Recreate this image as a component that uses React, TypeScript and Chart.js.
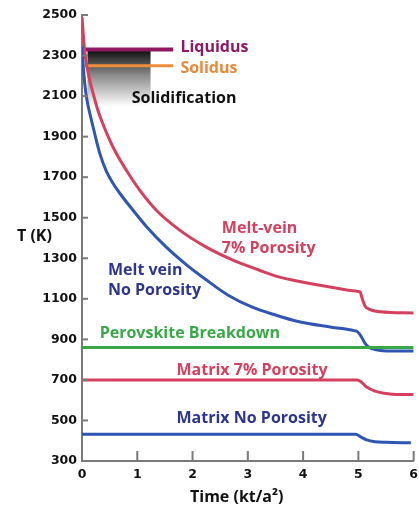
import React, { useEffect, useRef } from "react";
import { Chart, registerables } from "chart.js";
Chart.register(...registerables);

// Time (kt/a^2) and temperature (K) samples
const meltPorousT = [0, 0.03, 0.07, 0.13, 0.2, 0.27, 0.35, 0.56, 0.8, 1.04, 1.34, 1.76, 2.24, 2.72, 3.2, 3.56, 4.0, 4.51, 4.95, 5.03, 5.07, 5.12, 5.2, 5.4, 6.0];
const meltPorousV = [2490, 2380, 2278, 2190, 2115, 2045, 1982, 1849, 1735, 1637, 1538, 1440, 1356, 1292, 1242, 1208, 1182, 1157, 1138, 1134, 1100, 1065, 1048, 1036, 1030];

const meltSolidT = [0, 0.03, 0.07, 0.12, 0.17, 0.32, 0.44, 0.56, 0.68, 0.92, 1.16, 1.52, 1.88, 2.24, 2.66, 3.07, 3.5, 3.91, 4.51, 4.92, 4.98, 5.05, 5.12, 5.2, 5.3, 5.5, 6.0];
const meltSolidV = [2345, 2220, 2115, 2040, 1982, 1819, 1730, 1670, 1622, 1538, 1458, 1356, 1270, 1195, 1115, 1060, 1020, 988, 960, 943, 938, 915, 880, 860, 850, 843, 842];

const perovskiteT = [0, 6];
const perovskiteV = [860, 860];

const matrixPorousT = [0, 4.98, 5.05, 5.15, 5.3, 5.5, 5.7, 6.0];
const matrixPorousV = [700, 700, 690, 665, 645, 633, 628, 628];

const matrixSolidT = [0, 4.95, 5.05, 5.15, 5.3, 5.5, 5.95];
const matrixSolidV = [432, 432, 418, 404, 395, 392, 390];

const liquidusT = [0.05, 1.65];
const liquidusV = [2330, 2330];
const solidusT = [0.05, 1.65];
const solidusV = [2250, 2250];

// Solidification band: time range and temperature range
const bandT = [0.1, 1.24];
const bandV = [2330, 2050];

const xTicks = [0, 1, 2, 3, 4, 5, 6];
const yTicks = [300, 500, 700, 900, 1100, 1300, 1500, 1700, 1900, 2100, 2300, 2500];

// In-plot labels: text, colour, anchor (time, temperature at baseline)
const labelTexts = ["Liquidus", "Solidus", "Solidification", "Melt-vein", "7% Porosity", "Melt vein", "No Porosity", "Perovskite Breakdown", "Matrix 7% Porosity", "Matrix No Porosity"];
const labelColors = ["#8e1a63", "#e88a3a", "#111111", "#d4405f", "#d4405f", "#2e3590", "#2e3590", "#3aa848", "#d4405f", "#2e3590"];
const labelT = [1.78, 1.78, 0.9, 2.53, 2.53, 0.47, 0.47, 0.32, 1.71, 1.71];
const labelV = [2318, 2214, 2066, 1425, 1326, 1218, 1119, 907, 724, 487];

const RED = "#d6405f";
const BLUE = "#2f56b4";
const GREEN = "#3aa848";
const PURPLE = "#8e1a63";
const ORANGE = "#ee8e3c";

const LABEL_FONT = 'bold 16px "Open Sans"';

const pairs = (ts: number[], vs: number[]) => ts.map((t, i) => ({ x: t, y: vs[i] }));

export default function App() {
  const ref = useRef<HTMLCanvasElement>(null);
  useEffect(() => {
    document.body.style.margin = "0";
    const decor = {
      id: "decor",
      beforeDatasetsDraw(chart: any) {
        const { ctx, scales } = chart;
        const x = scales.x, y = scales.y;
        const x0 = x.getPixelForValue(bandT[0]);
        const x1 = x.getPixelForValue(bandT[1]);
        const y0 = y.getPixelForValue(bandV[0]);
        const y1 = y.getPixelForValue(bandV[1]);
        const g = ctx.createLinearGradient(0, y0, 0, y1);
        g.addColorStop(0, "#0a0a0a");
        g.addColorStop(0.45, "#8a8a8a");
        g.addColorStop(1, "rgba(255,255,255,1)");
        ctx.save();
        ctx.fillStyle = g;
        ctx.fillRect(x0, y0, x1 - x0, y1 - y0);
        ctx.restore();
      },
      afterDraw(chart: any) {
        const { ctx, scales, chartArea } = chart;
        const x = scales.x, y = scales.y;
        ctx.save();
        ctx.strokeStyle = "#7a7a7a";
        ctx.lineWidth = 2;
        for (const v of yTicks) {
          const py = y.getPixelForValue(v);
          ctx.beginPath();
          ctx.moveTo(chartArea.left, py);
          ctx.lineTo(chartArea.left + 6, py);
          ctx.stroke();
        }
        for (const t of xTicks) {
          if (t === 0) continue;
          const px = x.getPixelForValue(t);
          ctx.beginPath();
          ctx.moveTo(px, chartArea.bottom);
          ctx.lineTo(px, chartArea.bottom - 10);
          ctx.stroke();
        }
        ctx.textBaseline = "alphabetic";
        ctx.textAlign = "left";
        ctx.font = LABEL_FONT;
        labelTexts.forEach((txt, i) => {
          ctx.fillStyle = labelColors[i];
          ctx.fillText(txt, x.getPixelForValue(labelT[i]), y.getPixelForValue(labelV[i]));
        });
        ctx.fillStyle = "#111";
        ctx.font = 'bold 16px "Open Sans"';
        ctx.fillText("T (K)", 17, 241);
        ctx.fillText("Time (kt/a²)", 190, 502);
        ctx.restore();
      },
    };
    const line = (data: any, color: string, width = 3) => ({
      data,
      borderColor: color,
      backgroundColor: color,
      borderWidth: width,
      pointRadius: 0,
      fill: false,
      cubicInterpolationMode: "monotone" as const,
    });
    const tickFont = { family: "DejaVu Sans", weight: "bold" as const, size: 12.5 };
    const chart = new Chart(ref.current!, {
      type: "line",
      data: {
        datasets: [
          line(pairs(perovskiteT, perovskiteV), GREEN),
          line(pairs(matrixPorousT, matrixPorousV), RED),
          line(pairs(matrixSolidT, matrixSolidV), BLUE),
          line(pairs(meltSolidT, meltSolidV), BLUE),
          line(pairs(meltPorousT, meltPorousV), RED),
          line(pairs(liquidusT, liquidusV), PURPLE, 4),
          line(pairs(solidusT, solidusV), ORANGE, 3),
        ],
      },
      options: {
        animation: false,
        responsive: false,
        maintainAspectRatio: false,
        layout: { padding: { top: 15, right: 8, left: 0, bottom: 0 } },
        plugins: { legend: { display: false }, tooltip: { enabled: false } },
        scales: {
          x: {
            type: "linear",
            min: 0,
            max: 6,
            ticks: { stepSize: 1, color: "#111", font: tickFont, padding: 6, callback: (v: any) => String(v) },
            grid: { display: false, drawTicks: false },
            border: { color: "#7a7a7a", width: 2 },
            afterFit: (s: any) => { s.height = 44; },
          },
          y: {
            type: "linear",
            min: 300,
            max: 2500,
            ticks: { stepSize: 200, color: "#111", font: tickFont, padding: 5, callback: (v: any) => String(v) },
            grid: { display: false, drawTicks: false },
            border: { color: "#7a7a7a", width: 2 },
            afterFit: (s: any) => { s.width = 82; },
          },
        },
      },
      plugins: [decor],
    });
    return () => chart.destroy();
  }, []);
  return (
    <div style={{ position: "absolute", left: 0, top: 0, width: 419, height: 505, overflow: "hidden", background: "#fff" }}>
      <canvas ref={ref} width={424} height={505} style={{ display: "block", width: 424, height: 505 }} />
    </div>
  );
}
